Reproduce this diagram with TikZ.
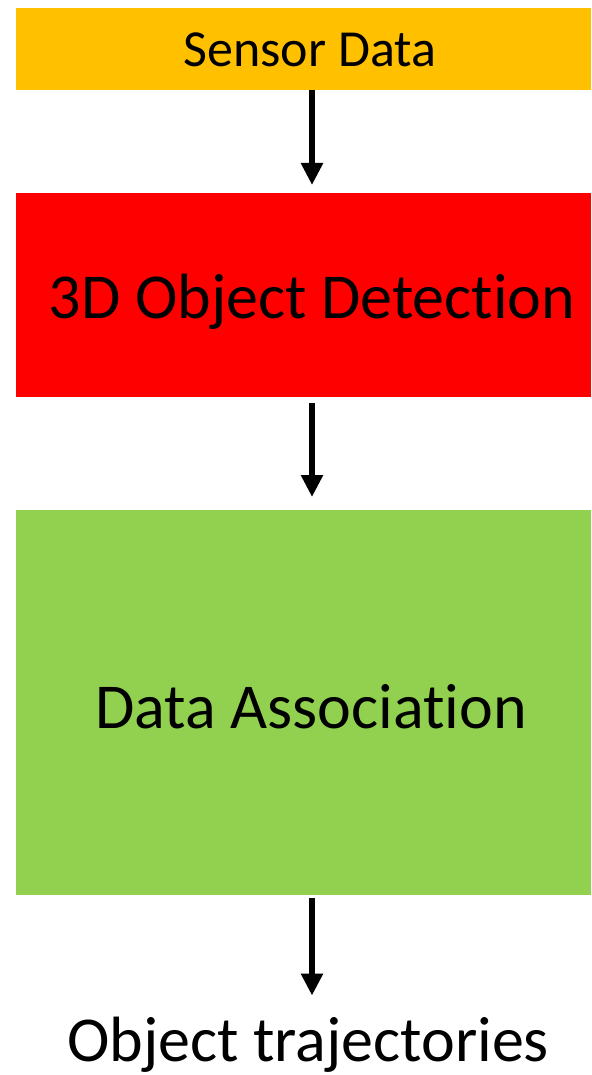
\documentclass[tikz,border=0pt]{standalone}
\usepackage{fontspec}
\setmainfont{Carlito}[Ligatures=NoCommon]
\usetikzlibrary{arrows.meta}

\definecolor{sensorfill}{HTML}{FFC000}
\definecolor{detectfill}{HTML}{FF0000}
\definecolor{assocfill}{HTML}{92D050}

\begin{document}
\begin{tikzpicture}[x=1pt, y=-1pt,
  stagebox/.style={draw=none, minimum width=575pt, inner sep=0pt, outer sep=0pt},
  bigtext/.style={font=\fontsize{64}{70}\selectfont, anchor=base, inner sep=0pt, outer sep=0pt},
  smalltext/.style={font=\fontsize{52}{60}\selectfont, anchor=base, inner sep=0pt, outer sep=0pt},
  flow/.style={line width=5.5pt, -{Triangle[width=21pt,length=22pt]}}]
  \useasboundingbox (0,0) rectangle (591,1075);

  % pipeline stages
  \node[stagebox, fill=sensorfill, minimum height=82pt] (sensor) at (303.5,49) {};
  \node[stagebox, fill=detectfill, minimum height=204pt] (detect) at (303.5,295) {};
  \node[stagebox, fill=assocfill, minimum height=385pt] (assoc) at (303.5,702.5) {};

  % stage labels
  \node[smalltext] (sensorlbl) at (310,67) {Sensor Data};
  \node[bigtext] (detectlbl) at (312,318) {3D Object Detection};
  \node[bigtext] (assoclbl) at (311,728) {Data Association};
  \node[bigtext] (output) at (308,1061) {Object trajectories};

  % flow arrows
  \coordinate (axis) at (312,0);
  \draw[flow, shorten >=8pt] (sensor.south -| axis) -- (detect.north -| axis);
  \draw[flow, shorten <=6pt, shorten >=13pt] (detect.south -| axis) -- (assoc.north -| axis);
  \draw[flow, shorten <=3pt, shorten >=21pt] (assoc.south -| axis) -- (output.north -| axis);
\end{tikzpicture}
\end{document}
